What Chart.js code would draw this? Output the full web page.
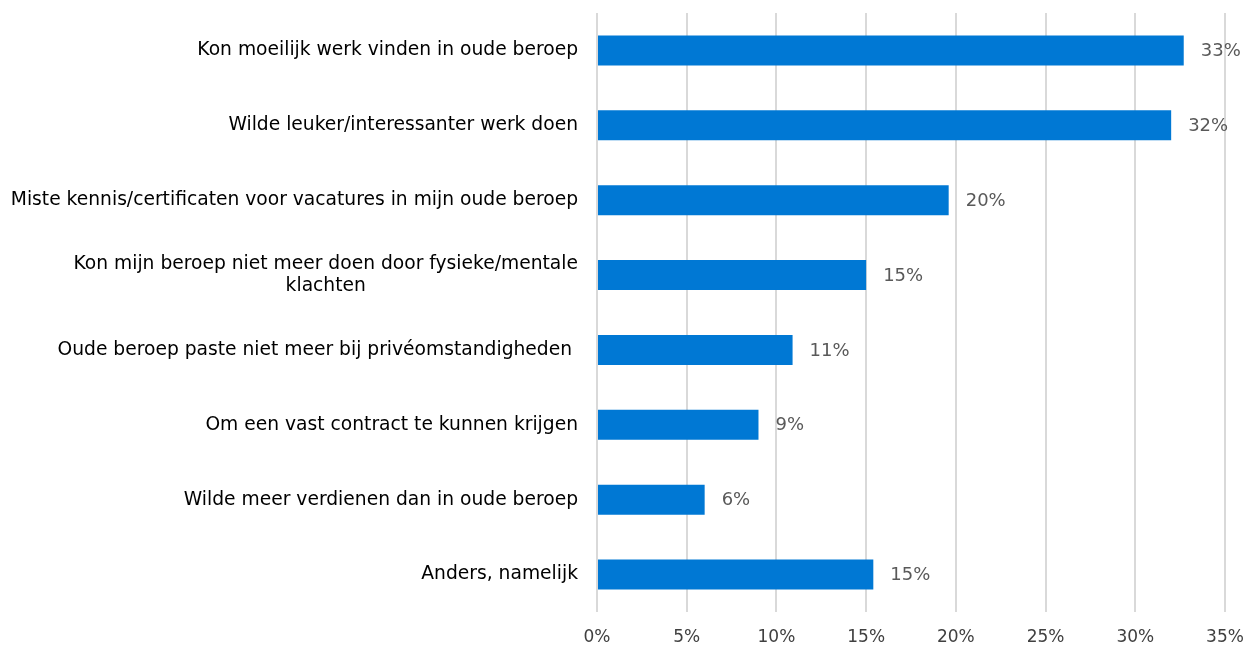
<!DOCTYPE html>
<html>
<head>
<meta charset="utf-8">
<script src="https://cdn.jsdelivr.net/npm/chart.js@4.4.1/dist/chart.umd.min.js"></script>
<style>
	body { margin: 0; background: #fff; }
	#canvasDiv { width: 1251px; height: 645px; }
</style>
</head>
<body>
<div id="canvasDiv"><canvas id="myChartOne"></canvas></div>
<script>
/* redenen beroepswissel */
const labelArray = [
	["Kon moeilijk werk vinden in oude beroep"],
	["Wilde leuker/interessanter werk doen"],
	["Miste kennis/certificaten voor vacatures in mijn oude beroep"],
	["Kon mijn beroep niet meer doen door fysieke/mentale", "klachten"],
	["Oude beroep paste niet meer bij privéomstandigheden "],
	["Om een vast contract te kunnen krijgen"],
	["Wilde meer verdienen dan in oude beroep"],
	["Anders, namelijk"]
];
const valArray = [32.7, 32.0, 19.6, 15.0, 10.9, 9.0, 6.0, 15.4];
const tickArray = [0, 5, 10, 15, 20, 25, 30, 35];

const fontName = "'DejaVu Sans', Verdana, sans-serif";

/* categorie labels links van de as, meerdere regels gecentreerd */
const catLabels = {
	id: "catLabels",
	afterDraw(chart) {
		const ctx = chart.ctx;
		const yScale = chart.scales.y;
		const right = chart.chartArea.left - 19;
		ctx.save();
		ctx.font = "18.7px " + fontName;
		ctx.fillStyle = "#000000";
		ctx.textBaseline = "middle";
		ctx.textAlign = "center";
		for (let i = 0; i < labelArray.length; i++) {
			let lines = labelArray[i];
			let yc = yScale.getPixelForValue(i);
			let lineH = 22;
			let widest = Math.max(...lines.map(l => ctx.measureText(l).width));
			let center = right - widest / 2;
			for (let j = 0; j < lines.length; j++) {
				let y = yc + (j - (lines.length - 1) / 2) * lineH;
				ctx.fillText(lines[j], center, y);
			}
		}
		ctx.restore();
	}
};

/* waarde labels achter de balken */
const valueLabels = {
	id: "valueLabels",
	afterDatasetsDraw(chart) {
		const ctx = chart.ctx;
		const meta = chart.getDatasetMeta(0);
		ctx.save();
		ctx.font = "18px " + fontName;
		ctx.fillStyle = "#595959";
		ctx.textAlign = "left";
		ctx.textBaseline = "middle";
		meta.data.forEach((bar, i) => {
			ctx.fillText(Math.round(valArray[i]) + "%", bar.x + 17, bar.y + 1);
		});
		ctx.restore();
	}
};

const myChartOne = document.getElementById("myChartOne").getContext("2d");

const barChar = new Chart(myChartOne, {
	type: "bar",
	data: {
		labels: labelArray.map(l => l.join(" ")),
		datasets: [
			{
				data: valArray,
				backgroundColor: "#0078d4",
				borderWidth: 0,
				barPercentage: 0.4,
				categoryPercentage: 1.0
			}
		]
	},
	options: {
		indexAxis: "y",
		responsive: true,
		maintainAspectRatio: false,
		animation: false,
		layout: { padding: { top: 13, right: 0, bottom: 0, left: 0 } },
		plugins: {
			legend: { display: false },
			tooltip: { enabled: false }
		},
		scales: {
			x: {
				min: 0,
				max: 35,
				afterBuildTicks: (scale) => {
					scale.ticks = tickArray.map(v => ({ value: v }));
				},
				afterFit: (scale) => {
					scale.height = 33;
					scale.paddingRight = 26;
					scale.paddingLeft = 0;
				},
				ticks: {
					callback: (v) => v + "%",
					color: "#404040",
					font: { family: fontName, size: 17 },
					padding: 15,
					maxRotation: 0
				},
				grid: {
					color: "#d9d9d9",
					lineWidth: 2,
					drawTicks: false
				},
				border: { display: false }
			},
			y: {
				ticks: { display: false },
				grid: { display: false },
				border: { display: false },
				afterFit: (scale) => { scale.width = 597; }
			}
		}
	},
	plugins: [catLabels, valueLabels]
});
</script>
</body>
</html>
